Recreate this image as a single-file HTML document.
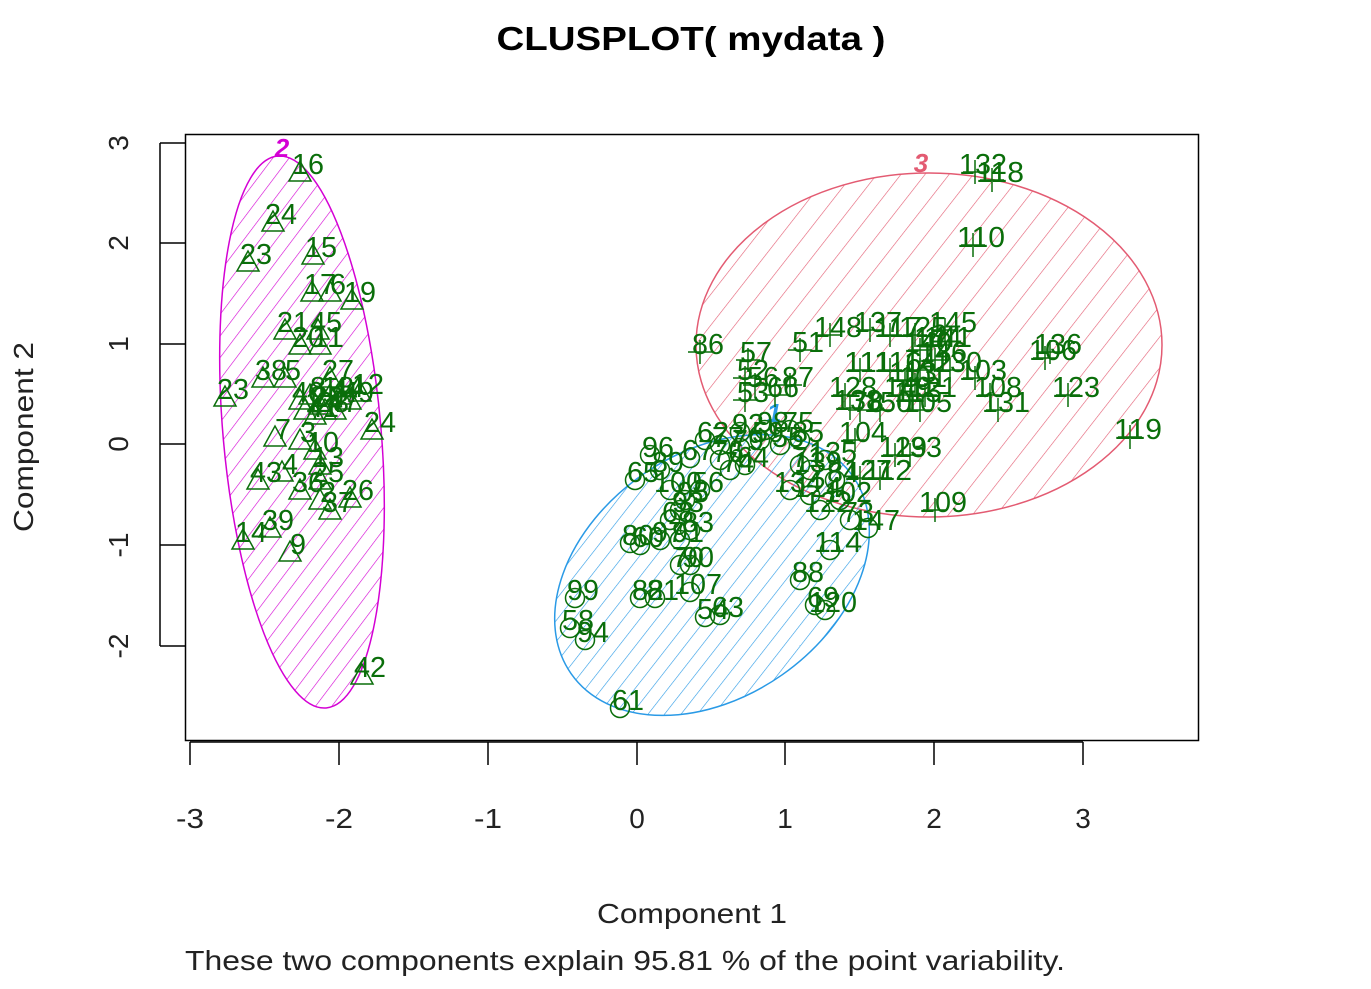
<!DOCTYPE html>
<html><head><meta charset="utf-8"><style>
html,body{margin:0;padding:0;background:#fff;}
svg{display:block;font-family:"Liberation Sans",sans-serif;}
</style></head><body>
<svg id="s" width="1371" height="989" viewBox="0 0 1371 989" xmlns="http://www.w3.org/2000/svg">
<defs>
<pattern id="hm" width="13" height="13" patternUnits="userSpaceOnUse" patternTransform="rotate(42)"><line x1="0" y1="0" x2="0" y2="13" stroke="#d400d4" stroke-width="1.2"/></pattern>
<pattern id="hr" width="19" height="19" patternUnits="userSpaceOnUse" patternTransform="rotate(38)"><line x1="0" y1="0" x2="0" y2="19" stroke="#e35b72" stroke-width="1.2"/></pattern>
<pattern id="hb" width="13" height="13" patternUnits="userSpaceOnUse" patternTransform="rotate(73)"><line x1="0" y1="0" x2="0" y2="13" stroke="#2a9ae6" stroke-width="1.2"/></pattern>
</defs>
<text x="691" y="50" text-anchor="middle" font-size="33" font-weight="bold" textLength="389" lengthAdjust="spacingAndGlyphs">CLUSPLOT( mydata )</text>
<rect x="185.5" y="134.5" width="1013" height="606" fill="none" stroke="#000" stroke-width="1.5"/>
<g stroke="#000" stroke-width="1.5">
<line x1="190" y1="742" x2="1083" y2="742"/>
<line x1="190" y1="742" x2="190" y2="765"/><line x1="339" y1="742" x2="339" y2="765"/><line x1="488" y1="742" x2="488" y2="765"/><line x1="637" y1="742" x2="637" y2="765"/><line x1="785" y1="742" x2="785" y2="765"/><line x1="934" y1="742" x2="934" y2="765"/><line x1="1083" y1="742" x2="1083" y2="765"/>
<line x1="160" y1="143" x2="160" y2="646"/>
<line x1="160" y1="143" x2="185" y2="143"/><line x1="160" y1="243" x2="185" y2="243"/><line x1="160" y1="344" x2="185" y2="344"/><line x1="160" y1="444" x2="185" y2="444"/><line x1="160" y1="545" x2="185" y2="545"/><line x1="160" y1="646" x2="185" y2="646"/>
</g>
<g font-size="28" text-anchor="middle" fill="#222">
<text x="190" y="828" textLength="28" lengthAdjust="spacingAndGlyphs">-3</text>
<text x="339" y="828" textLength="28" lengthAdjust="spacingAndGlyphs">-2</text>
<text x="488" y="828" textLength="28" lengthAdjust="spacingAndGlyphs">-1</text>
<text x="637" y="828">0</text><text x="785" y="828">1</text><text x="934" y="828">2</text><text x="1083" y="828">3</text>
<g transform="translate(128,143) rotate(-90)"><text x="0" y="0">3</text></g>
<g transform="translate(128,243) rotate(-90)"><text x="0" y="0">2</text></g>
<g transform="translate(128,344) rotate(-90)"><text x="0" y="0">1</text></g>
<g transform="translate(128,444) rotate(-90)"><text x="0" y="0">0</text></g>
<g transform="translate(128,545) rotate(-90)"><text x="0" y="0">-1</text></g>
<g transform="translate(128,646) rotate(-90)"><text x="0" y="0">-2</text></g>
<text x="692" y="923" textLength="190" lengthAdjust="spacingAndGlyphs">Component 1</text>
<g transform="translate(33,437) rotate(-90)"><text x="0" y="0" textLength="190" lengthAdjust="spacingAndGlyphs">Component 2</text></g>
</g>
<text x="185" y="970" font-size="28" fill="#222" textLength="880" lengthAdjust="spacingAndGlyphs">These two components explain 95.81 % of the point variability.</text>
<ellipse cx="302" cy="432" rx="79" ry="277" transform="rotate(-5 302 432)" fill="url(#hm)" stroke="#d400d4" stroke-width="1.5"/>
<ellipse cx="929" cy="345" rx="233" ry="172" fill="url(#hr)" stroke="#e35b72" stroke-width="1.5"/>
<ellipse cx="712" cy="575" rx="172" ry="122" transform="rotate(-35 712 575)" fill="url(#hb)" stroke="#2a9ae6" stroke-width="1.5"/>
<text x="282" y="157" font-size="26" font-weight="bold" font-style="italic" fill="#d400d4" text-anchor="middle">2</text>
<text x="921" y="172" font-size="26" font-weight="bold" font-style="italic" fill="#e35b72" text-anchor="middle">3</text>
<text x="774" y="422" font-size="26" font-weight="bold" font-style="italic" fill="#2a9ae6" text-anchor="middle">1</text>
<g id="pts" fill="none" stroke="#0a6e0a" stroke-width="1.5"></g>
<g id="lbl" fill="#0a6e0a" font-size="29" text-anchor="middle"></g>
</svg>
<script>
var t=[[300,172,"16"],[273,222,"24"],[248,262,"23"],[313,255,"15"],[312,292,"17"],[330,292,"6"],[352,300,"19"],[285,330,"21"],[318,330,"45"],[300,345,"20"],[320,345,"11"],[225,397,"23"],[263,378,"38"],[285,378,"5"],[330,378,"27"],[300,400,"40"],[310,395,"8"],[320,405,"29"],[330,395,"18"],[305,410,"1"],[315,415,"41"],[325,410,"28"],[340,395,"44"],[350,400,"49"],[360,392,"12"],[335,410,"47"],[372,430,"24"],[275,437,"7"],[300,440,"3"],[315,450,"10"],[320,465,"13"],[258,480,"43"],[282,472,"4"],[320,480,"25"],[300,490,"36"],[350,498,"26"],[320,500,"2"],[330,510,"37"],[243,540,"14"],[270,528,"39"],[290,552,"9"],[362,675,"42"]];
var p=[[975,172,"132"],[992,180,"118"],[973,245,"110"],[700,352,"86"],[748,360,"57"],[745,378,"52"],[755,385,"56"],[790,385,"87"],[745,400,"53"],[775,395,"66"],[800,350,"51"],[830,335,"148"],[870,330,"137"],[890,335,"117"],[915,335,"125"],[945,330,"145"],[930,345,"144"],[920,350,"140"],[860,370,"111"],[890,370,"116"],[975,378,"103"],[1050,352,"136"],[1045,358,"106"],[1068,395,"123"],[990,395,"108"],[998,410,"131"],[1130,437,"119"],[895,455,"129"],[910,455,"133"],[855,440,"104"],[845,395,"128"],[850,408,"138"],[860,410,"78"],[880,410,"150"],[910,400,"115"],[920,410,"105"],[915,385,"101"],[920,370,"142"],[935,360,"146"],[940,345,"141"],[880,478,"112"],[860,478,"127"],[935,510,"109"],[905,380,"113"],[925,395,"121"],[900,395,"149"],[950,370,"130"]];
var c=[[620,708,"61"],[570,628,"58"],[585,640,"94"],[575,598,"99"],[640,598,"82"],[655,598,"81"],[690,592,"107"],[705,617,"54"],[720,615,"63"],[680,565,"70"],[690,565,"90"],[630,543,"80"],[640,545,"60"],[670,520,"68"],[690,530,"83"],[680,510,"93"],[635,480,"65"],[650,455,"96"],[690,458,"67"],[705,440,"62"],[740,432,"92"],[740,448,"79"],[745,465,"64"],[730,470,"74"],[670,490,"100"],[700,490,"56"],[765,430,"98"],[790,430,"75"],[800,465,"71"],[810,470,"139"],[830,550,"114"],[800,580,"88"],[815,605,"69"],[825,610,"120"],[868,528,"147"],[850,520,"73"],[790,490,"134"],[810,495,"124"],[835,480,"84"],[820,510,"122"],[780,445,"55"],[760,440,"59"],[720,445,"77"],[660,470,"89"],[685,500,"95"],[660,540,"97"],[680,540,"91"],[720,460,"76"],[800,440,"85"],[825,460,"135"],[840,500,"102"]];
var g=document.getElementById("pts"),L=document.getElementById("lbl"),N="http://www.w3.org/2000/svg",h="";
function lab(x,y,s){var e=document.createElementNS(N,"text");e.setAttribute("x",x+8);e.setAttribute("y",y+2);e.setAttribute("textLength",s.length*16);e.setAttribute("lengthAdjust","spacingAndGlyphs");e.textContent=s;L.appendChild(e);}
t.forEach(function(a){h+='<path d="M'+(a[0]-11)+' '+(a[1]+9)+'L'+a[0]+' '+(a[1]-11)+'L'+(a[0]+11)+' '+(a[1]+9)+'Z"/>';lab(a[0],a[1],a[2]);});
p.forEach(function(a){h+='<path d="M'+(a[0]-12)+' '+a[1]+'H'+(a[0]+12)+'M'+a[0]+' '+(a[1]-12)+'V'+(a[1]+12)+'"/>';lab(a[0],a[1],a[2]);});
c.forEach(function(a){h+='<circle cx="'+a[0]+'" cy="'+a[1]+'" r="9.5"/>';lab(a[0],a[1],a[2]);});
g.innerHTML=h;
</script>
</body></html>
